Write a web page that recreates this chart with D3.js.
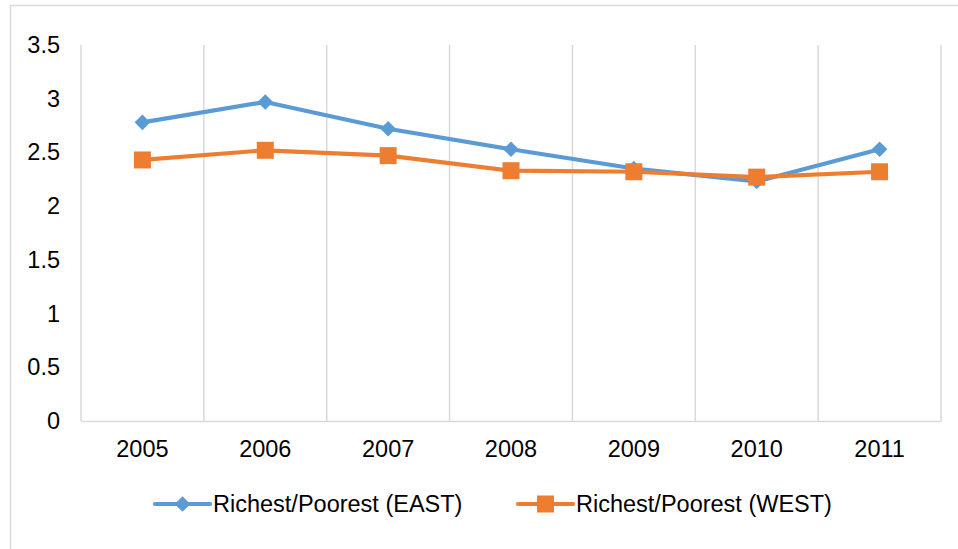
<!DOCTYPE html>
<html>
<head>
<meta charset="utf-8">
<script src="https://cdn.jsdelivr.net/npm/d3@7"></script>
<style>
  html, body { margin: 0; padding: 0; background: #fff; }
  svg text { font-family: "Liberation Sans", Arial, sans-serif; fill: #000; }
</style>
</head>
<body>
<div id="chart"></div>
<script>
// datos
const years = ["2005", "2006", "2007", "2008", "2009", "2010", "2011"];
const east = [2.78, 2.97, 2.72, 2.53, 2.35, 2.23, 2.53];
const west = [2.43, 2.52, 2.47, 2.33, 2.32, 2.27, 2.32];
const yTicks = [0, 0.5, 1, 1.5, 2, 2.5, 3, 3.5];
const seriesNames = ["Richest/Poorest (EAST)", "Richest/Poorest (WEST)"];

const width = 958, height = 549;
const margin = {left: 81, right: 17, top: 45, bottom: 128};
const fontSize = "23.5px";

const svg = d3.select("#chart").append("svg")
  .attr("width", width)
  .attr("height", height);

// borde exterior del area del grafico
svg.append("rect")
  .attr("x", 10.5).attr("y", 5.5)
  .attr("width", 1000).attr("height", 600)
  .attr("fill", "none")
  .attr("stroke", "#d9d9d9")
  .attr("stroke-width", 1.5);

const x = d3.scaleBand()
  .domain(years)
  .range([margin.left, width - margin.right])
  .padding(0);

const y = d3.scaleLinear()
  .domain([0, 3.5])
  .range([height - margin.bottom, margin.top]);

// lineas verticales entre categorias
const edges = years.map(d => x(d)).concat([x(years[years.length - 1]) + x.bandwidth()]);
svg.append("g")
  .selectAll("line")
  .data(edges)
  .join("line")
  .attr("x1", d => d).attr("x2", d => d)
  .attr("y1", y(3.5)).attr("y2", y(0))
  .attr("stroke", "#d9d9d9")
  .attr("stroke-width", 1.5);

// eje x
const xAxis = svg.append("g")
  .attr("transform", `translate(0,${y(0)})`)
  .call(d3.axisBottom(x).tickSize(0).tickPadding(19));
xAxis.select(".domain").attr("stroke", "#d9d9d9").attr("stroke-width", 1.5);
xAxis.selectAll("text").style("font-size", fontSize).attr("fill", "#000");

// eje y
const yAxis = svg.append("g")
  .attr("transform", `translate(${margin.left},0)`)
  .call(d3.axisLeft(y).tickValues(yTicks).tickFormat(d3.format("")).tickSize(0).tickPadding(21));
yAxis.select(".domain").remove();
yAxis.selectAll("text").style("font-size", fontSize).attr("fill", "#000");

const cx = d => x(d) + x.bandwidth() / 2;
const line = d3.line()
  .x((d, i) => cx(years[i]))
  .y(d => y(d));

const colors = ["#5b9bd5", "#ed7d31"];
const series = [east, west];
const diamond = d3.symbol(d3.symbolDiamond2, 155)();

series.forEach((vals, k) => {
  const g = svg.append("g");
  g.append("path")
    .datum(vals)
    .attr("d", line)
    .attr("fill", "none")
    .attr("stroke", colors[k])
    .attr("stroke-width", 4.2)
    .attr("stroke-linejoin", "round");
  if (k === 0) {
    g.selectAll("path.m")
      .data(vals)
      .join("path")
      .attr("class", "m")
      .attr("d", diamond)
      .attr("transform", (d, i) => `translate(${cx(years[i])},${y(d)})`)
      .attr("fill", colors[k]);
  } else {
    g.selectAll("rect.m")
      .data(vals)
      .join("rect")
      .attr("class", "m")
      .attr("x", (d, i) => cx(years[i]) - 8.5)
      .attr("y", d => y(d) - 8.5)
      .attr("width", 17).attr("height", 17)
      .attr("fill", colors[k]);
  }
});

// leyenda
const legendX = [155, 518];
const legendY = 504;
seriesNames.forEach((name, k) => {
  const g = svg.append("g").attr("transform", `translate(${legendX[k]},${legendY})`);
  g.append("line")
    .attr("x1", 0).attr("x2", 55)
    .attr("y1", 0).attr("y2", 0)
    .attr("stroke", colors[k])
    .attr("stroke-width", 4.2)
    .attr("stroke-linecap", "round");
  if (k === 0) {
    g.append("path")
      .attr("d", diamond)
      .attr("transform", "translate(27.5,0)")
      .attr("fill", colors[k]);
  } else {
    g.append("rect")
      .attr("x", 19).attr("y", -8.5)
      .attr("width", 17).attr("height", 17)
      .attr("fill", colors[k]);
  }
  g.append("text")
    .attr("x", 58)
    .attr("y", 0)
    .attr("dy", "0.35em")
    .style("font-size", fontSize)
    .text(name);
});
</script>
</body>
</html>
